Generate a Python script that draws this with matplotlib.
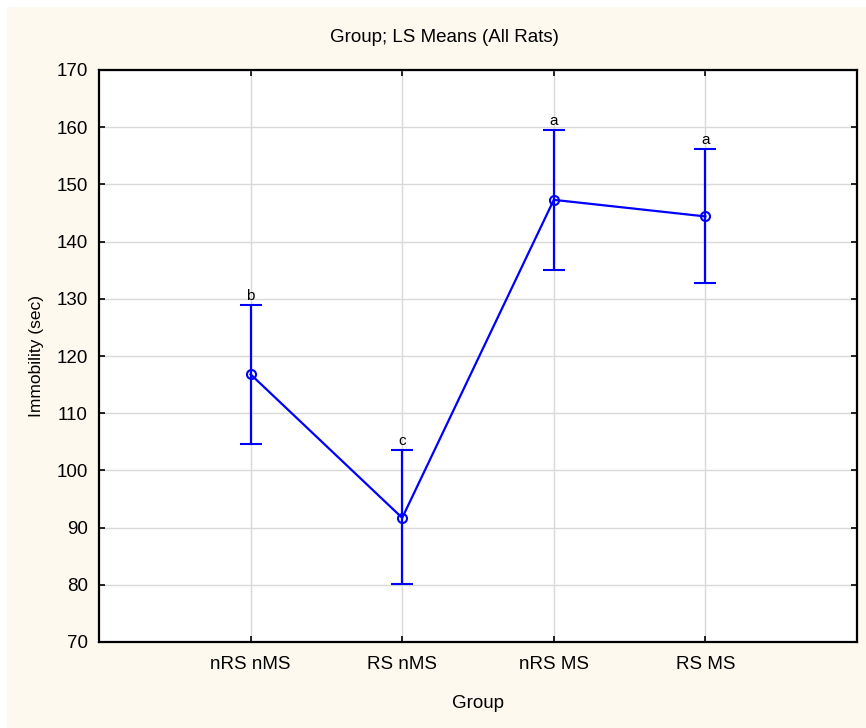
import matplotlib
matplotlib.use("Agg")
import matplotlib.pyplot as plt
from matplotlib.patches import Rectangle

groups = ["nRS nMS", "RS nMS", "nRS MS", "RS MS"]
means = [116.8, 91.7, 147.3, 144.4]
upper = [128.9, 103.6, 159.5, 156.2]
lower = [104.6, 80.2, 135.0, 132.8]
letters = ["b", "c", "a", "a"]
yticks = [70, 80, 90, 100, 110, 120, 130, 140, 150, 160, 170]

plt.rcParams['font.family'] = ['Liberation Sans', 'DejaVu Sans']

fig = plt.figure(figsize=(8.66, 7.28), dpi=100)
fig.patch.set_facecolor("white")
fig.patches.append(Rectangle((7/866, 0), 1 - 7/866, 1 - 7/728, transform=fig.transFigure,
                             facecolor="#FEF9EF", edgecolor="none", zorder=-10))

ax = fig.add_axes([99/866, 1 - 642/728, (857 - 99)/866, (642 - 70)/728])
ax.set_facecolor("white")
x = list(range(1, len(groups) + 1))
yerr = [[m - l for m, l in zip(means, lower)], [u - m for m, u in zip(means, upper)]]
ax.errorbar(x, means, yerr=yerr, color="#0000FF", lw=1.6, elinewidth=1.6,
            capsize=8, capthick=1.6, marker="o", markersize=6.5,
            markerfacecolor="none", markeredgecolor="#0000FF", markeredgewidth=1.5, zorder=3)
for xi, u, t in zip(x, upper, letters):
    ax.annotate(t, (xi, u), xytext=(0, 1.5), textcoords="offset points",
                ha="center", va="bottom", fontsize=11)

ax.set_xlim(0, 5)
ax.set_ylim(70, 170)
ax.set_xticks(x)
ax.set_xticklabels(groups, fontsize=13.5)
ax.set_yticks(yticks)
ax.tick_params(axis="y", labelsize=13.5, pad=8)
ax.tick_params(axis="x", pad=10)
ax.tick_params(direction="in", length=4, width=1.2, top=True, right=True)
ax.grid(True, color="#D9D9D9", lw=1)
ax.set_axisbelow(True)
for s in ax.spines.values():
    s.set_linewidth(1.6)
    s.set_color("black")
ax.set_xlabel("Group", fontsize=13.5, labelpad=16)
ax.set_ylabel("Immobility (sec)", fontsize=12.5, labelpad=9)
fig.text(444/866, 1 - 38/728, "Group; LS Means (All Rats)", fontsize=13.5,
         ha="center", va="center")

fig.savefig("out.png", dpi=100, facecolor=fig.get_facecolor())
